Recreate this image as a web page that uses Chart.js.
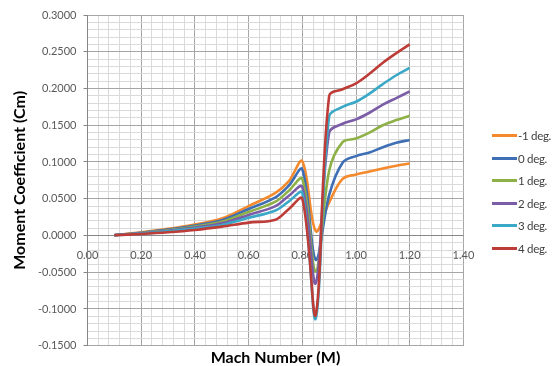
<!DOCTYPE html>
<html lang="en">
<head>
<meta charset="UTF-8">
<title>Moment Coefficient vs Mach Number</title>
<script src="https://cdn.jsdelivr.net/npm/chart.js"></script>
<style>
    * {
        margin: 0;
        padding: 0;
        box-sizing: border-box;
    }
    body {
        background: #fff;
    }
    .chartBox {
        position: relative;
        width: 553px;
        height: 366px;
        overflow: hidden;
    }
    .guidelines {
        position: absolute;
        left: 492px;
        top: 124.5px;
        font-family: 'Lato', sans-serif;
        font-size: 11.5px;
        letter-spacing: -0.3px;
        color: #404040;
        white-space: nowrap;
    }
    .label {
        display: flex;
        flex-direction: row;
        align-items: center;
        height: 22.5px;
    }
    .swatch {
        width: 25px;
        height: 3px;
        margin-right: 1px;
    }
</style>
</head>
<body>

<div class="chartBox">
    <canvas id="myChart" width="553" height="366"></canvas>
    <div class="guidelines" id="legend"></div>
</div>

<script>
// data block
const mach = [0.1, 0.2, 0.3, 0.4, 0.5, 0.6, 0.7, 0.75, 0.8, 0.85, 0.9, 0.95, 1.0, 1.05, 1.1, 1.15, 1.2];

const cmMinus1 = [0.0005, 0.0042, 0.0090, 0.0150, 0.0230, 0.0400, 0.0580, 0.0740, 0.1010, 0.0060, 0.0450, 0.0770, 0.0830, 0.0870, 0.0910, 0.0950, 0.0980];
const cm0      = [0.0005, 0.0038, 0.0081, 0.0136, 0.0208, 0.0360, 0.0520, 0.0680, 0.0900, -0.0330, 0.0550, 0.0990, 0.1080, 0.1130, 0.1200, 0.1260, 0.1300];
const cm1      = [0.0004, 0.0034, 0.0072, 0.0122, 0.0186, 0.0320, 0.0460, 0.0610, 0.0770, -0.0490, 0.0880, 0.1270, 0.1320, 0.1400, 0.1500, 0.1570, 0.1630];
const cm2      = [0.0004, 0.0030, 0.0064, 0.0108, 0.0165, 0.0280, 0.0400, 0.0540, 0.0660, -0.0650, 0.1400, 0.1520, 0.1580, 0.1670, 0.1780, 0.1870, 0.1960];
const cm3      = [0.0003, 0.0026, 0.0056, 0.0094, 0.0143, 0.0240, 0.0340, 0.0465, 0.0580, -0.1130, 0.1620, 0.1750, 0.1820, 0.1930, 0.2060, 0.2180, 0.2280];
const cm4      = [0.0003, 0.0020, 0.0043, 0.0075, 0.0120, 0.0175, 0.0215, 0.0360, 0.0500, -0.1080, 0.1900, 0.1990, 0.2070, 0.2200, 0.2350, 0.2480, 0.2600];

const seriesNames = ['-1 deg.', '0 deg.', '1 deg.', '2 deg.', '3 deg.', '4 deg.'];
const seriesValues = [cmMinus1, cm0, cm1, cm2, cm3, cm4];
const seriesColors = ['#F48A2C', '#3E6EB4', '#8DB146', '#7B5CA6', '#3AA8C6', '#BD3C37'];

// helpers
function onStep(v, step) {
    const r = v / step;
    return Math.abs(r - Math.round(r)) < 1e-6;
}
function fmt(v, d) {
    return (Math.abs(v) < 1e-9 ? 0 : v).toFixed(d);
}
const majorGrid = '#A6A6A6';
const minorGrid = '#DADADA';

const datasets = seriesValues.map((vals, i) => ({
    label: seriesNames[i],
    data: mach.map((m, j) => ({x: m, y: vals[j]})),
    borderColor: seriesColors[i],
    backgroundColor: seriesColors[i],
    borderWidth: 2.6,
    pointRadius: 0,
    tension: 0.35,
    fill: false,
    order: seriesValues.length - i
}));

const config = {
    type: 'line',
    data: { datasets },
    options: {
        responsive: false,
        animation: false,
        layout: {
            padding: { left: 0, right: 89.6, top: 15, bottom: 0 }
        },
        plugins: {
            legend: { display: false },
            tooltip: { enabled: false }
        },
        scales: {
            x: {
                type: 'linear',
                position: 'bottom',
                min: 0,
                max: 1.4,
                afterFit: s => {
                    s.height = 20.3;
                    s.paddingLeft = 0;
                    s.paddingRight = 0;
                },
                ticks: {
                    stepSize: 0.04,
                    autoSkip: false,
                    maxRotation: 0,
                    // mirrored so the labels sit under the y = 0 line, as in the original
                    mirror: true,
                    padding: 84.1,
                    color: '#595959',
                    font: { family: 'Lato', size: 11 },
                    callback: v => onStep(v, 0.2) ? fmt(v, 2) : ''
                },
                grid: {
                    color: c => onStep(c.tick.value, 0.2) ? majorGrid : minorGrid,
                    drawTicks: false
                },
                border: { display: false },
                title: {
                    display: true,
                    text: 'Mach Number (M)',
                    color: '#000',
                    font: { family: 'Lato', size: 16, weight: 'bold', lineHeight: 1 },
                    padding: { top: 0, bottom: 0 }
                }
            },
            y: {
                type: 'linear',
                min: -0.15,
                max: 0.3,
                afterFit: s => { s.width = 87.5; },
                ticks: {
                    stepSize: 0.01,
                    autoSkip: false,
                    padding: 7,
                    color: '#595959',
                    font: { family: 'Lato', size: 11 },
                    callback: v => onStep(v, 0.05) ? fmt(v, 4) : ''
                },
                grid: {
                    color: c => Math.abs(c.tick.value) < 1e-9 ? '#868686'
                        : onStep(c.tick.value, 0.05) ? majorGrid : minorGrid,
                    tickLength: 4,
                    tickColor: c => onStep(c.tick.value, 0.05) ? '#868686' : 'rgba(0,0,0,0)'
                },
                border: { display: true, color: '#868686', width: 1 },
                title: {
                    display: true,
                    text: 'Moment Coefficient (Cm)',
                    color: '#000',
                    font: { family: 'Lato', size: 16, weight: 'bold', lineHeight: 1 },
                    padding: { top: 12, bottom: 0 }
                }
            }
        }
    }
};

// legend block
const legendBox = document.getElementById('legend');
seriesNames.forEach((name, i) => {
    const row = document.createElement('div');
    row.className = 'label';
    const sw = document.createElement('div');
    sw.className = 'swatch';
    sw.style.background = seriesColors[i];
    const tx = document.createElement('div');
    tx.className = 'text';
    tx.textContent = name;
    row.appendChild(sw);
    row.appendChild(tx);
    legendBox.appendChild(row);
});

// render block
const myChart = new Chart(document.getElementById('myChart'), config);
</script>

</body>
</html>
